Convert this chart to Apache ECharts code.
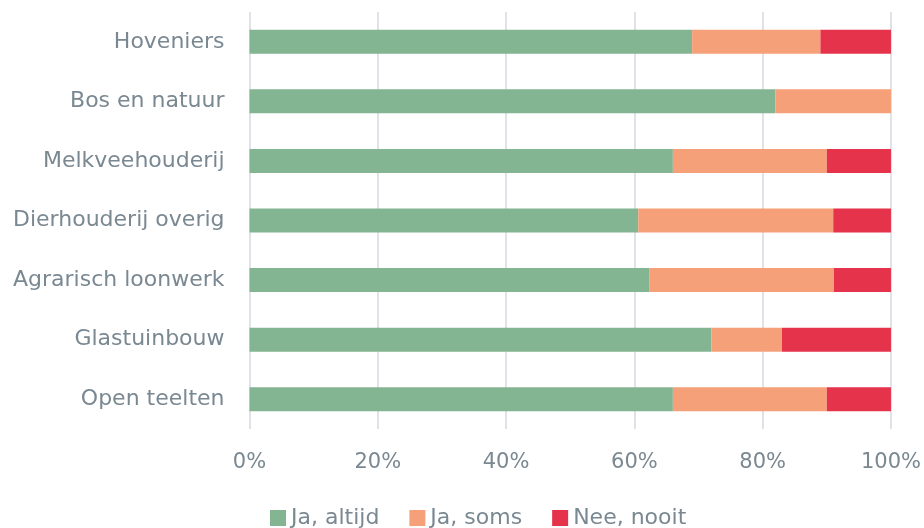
<!DOCTYPE html>
<html>
<head>
<meta charset="utf-8">
<script src="https://cdn.jsdelivr.net/npm/echarts@6/dist/echarts.min.js"></script>
<style>
  html, body { margin: 0; padding: 0; background: #fff; }
  #chart { width: 924px; height: 528px; }
</style>
</head>
<body>
<div id="chart"></div>
<script>
var categories = ['Open teelten', 'Glastuinbouw', 'Agrarisch loonwerk', 'Dierhouderij overig', 'Melkveehouderij', 'Bos en natuur', 'Hoveniers'];
var jaAltijd = [66, 72, 62.3, 60.6, 66, 82, 69];
var jaSoms = [24, 11, 28.8, 30.4, 24, 18, 20];
var neeNooit = [10, 17, 8.9, 9, 10, 0, 11];
var xTicks = [0, 20, 40, 60, 80, 100];

var textColor = '#7a8892';
var font = 'DejaVu Sans';

var myChart = echarts.init(document.getElementById('chart'));

function bar(name, data, color) {
	return {
		name: name,
		type: 'bar',
		stack: 'totaal',
		data: data,
		barWidth: 24,
		itemStyle: { color: color },
		emphasis: { disabled: true }
	};
}

var option = {
	animation: false,
	grid: {
		left: 249.5,
		right: 30.5,
		top: 12,
		bottom: 99,
		containLabel: false
	},
	legend: {
		bottom: -6,
		left: 265,
		itemWidth: 16,
		itemHeight: 16,
		itemGap: 30,
		icon: 'rect',
		textStyle: { color: textColor, fontFamily: font, fontSize: 22 },
		data: ['Ja, altijd', 'Ja, soms', 'Nee, nooit']
	},
	xAxis: {
		type: 'value',
		min: xTicks[0],
		max: xTicks[xTicks.length - 1],
		interval: 20,
		axisLine: { show: false },
		axisTick: { show: false },
		splitLine: { lineStyle: { color: '#dfe2e6', width: 2 } },
		axisLabel: {
			color: textColor,
			fontFamily: font,
			fontSize: 21,
			margin: 23,
			formatter: '{value}%'
		}
	},
	yAxis: {
		type: 'category',
		data: categories,
		axisLine: { show: false },
		axisTick: { show: false },
		axisLabel: {
			color: textColor,
			fontFamily: font,
			fontSize: 22,
			margin: 25
		}
	},
	series: [
		bar('Ja, altijd', jaAltijd, '#84b592'),
		bar('Ja, soms', jaSoms, '#f6a079'),
		bar('Nee, nooit', neeNooit, '#e5334b')
	]
};
myChart.setOption(option);
</script>
</body>
</html>
